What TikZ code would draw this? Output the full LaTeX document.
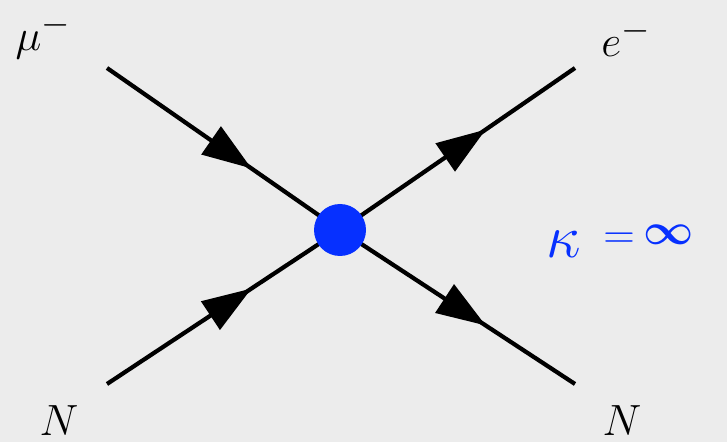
\documentclass[tikz,border=0pt]{standalone}
\usepackage{bm}
\usepackage{graphicx}
\usetikzlibrary{arrows.meta,decorations.markings}
\definecolor{bg}{HTML}{ECECEC}
\definecolor{vblue}{HTML}{0630FF}
\tikzset{
  fermion/.style={line width=2.4pt,black,
    postaction={decorate},
    decoration={markings,mark=at position 0.62 with {\arrow{Triangle[length=28pt,width=19pt]}}}},
  lbl/.style={font=\fontsize{29}{30}\selectfont, inner sep=0pt},
}
\begin{document}
\begin{tikzpicture}[x=0.02cm,y=-0.02cm]
\fill[bg] (0,0) rectangle (727,442);
\useasboundingbox (0,0) rectangle (727,442);
\coordinate (v) at (340,230);
\coordinate (a) at (107,68);
\coordinate (b) at (107,384);
\coordinate (c) at (575,68);
\coordinate (d) at (575,384);
\draw[fermion] (a) -- (v);
\draw[fermion] (b) -- (v);
\draw[fermion] (v) -- (c);
\draw[fermion] (v) -- (d);
\fill[vblue] (v) circle (26);
\node[lbl] (mu) at (43,36) {$\mu^-$};
\node[lbl] (e) at (626,38) {$e^-$};
\node[lbl] (n1) at (59,421) {$N$};
\node[lbl] (n2) at (622,421) {$N$};
\node[lbl,text=vblue,anchor=base west] (k) at (546,258)
  {\scalebox{1.4}{$\kappa$}\hspace{0.45cm}\raisebox{0.2cm}{$=$}\hspace{0.18cm}\raisebox{0.27cm}{$\bm{\infty}$}};
\end{tikzpicture}
\end{document}
